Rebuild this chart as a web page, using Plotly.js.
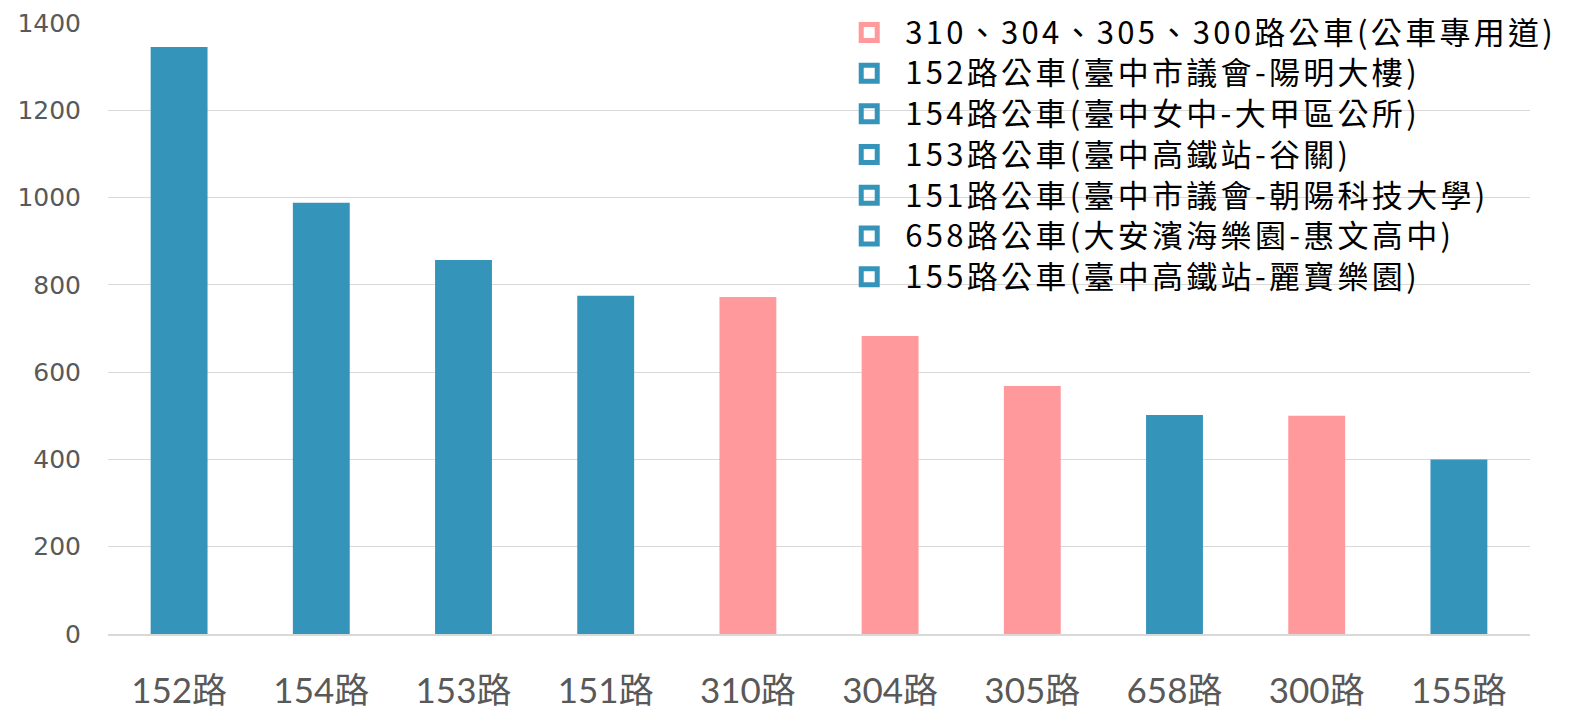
<!DOCTYPE html>
<html>
<head>
<meta charset="utf-8">
<script src="https://cdn.plot.ly/plotly-3.0.1.min.js"></script>
<style>html,body{margin:0;padding:0;background:#fff;}#chart{width:1569px;height:709px;}</style>
</head>
<body>
<div id="chart"></div>
<script>
const categories = ['152路','154路','153路','151路','310路','304路','305路','658路','300路','155路'];
const ridership = [1345, 988, 857, 775, 772, 683, 568, 502, 500, 400];
const isBusway = [false, false, false, false, true, true, true, false, true, false];
const legendNames = [
  '310、304、305、300路公車(公車專用道)',
  '152路公車(臺中市議會-陽明大樓)',
  '154路公車(臺中女中-大甲區公所)',
  '153路公車(臺中高鐵站-谷關)',
  '151路公車(臺中市議會-朝陽科技大學)',
  '658路公車(大安濱海樂園-惠文高中)',
  '155路公車(臺中高鐵站-麗寶樂園)'
];
const legendBusway = [true, false, false, false, false, false, false];
const yTicks = [0, 200, 400, 600, 800, 1000, 1200, 1400];

const BLUE = '#3494BA';
const PINK = '#FF999B';

const traces = [{
  type: 'bar',
  x: categories,
  y: ridership,
  marker: {color: isBusway.map(b => b ? PINK : BLUE)},
  width: 0.4,
  showlegend: false,
  hoverinfo: 'x+y'
}];
legendNames.forEach((name, i) => {
  const c = legendBusway[i] ? PINK : BLUE;
  traces.push({
    type: 'scatter',
    mode: 'markers',
    x: [null], y: [null],
    name: '<span style="font-size:31px;letter-spacing:3.3px">' + name + '</span>',
    marker: {symbol: 'square-open', size: 16, color: c, line: {width: 5, color: c}},
    showlegend: true
  });
});

const layout = {
  width: 1569, height: 709,
  margin: {l: 108, r: 39, t: 23, b: 75, autoexpand: false},
  paper_bgcolor: '#ffffff',
  plot_bgcolor: '#ffffff',
  showlegend: true,
  legend: {
    x: 0.510, xanchor: 'left', y: 1.026, yanchor: 'top',
    bgcolor: 'rgba(0,0,0,0)',
    itemwidth: 62,
    font: {family: '"Noto Sans CJK TC", "Noto Sans", sans-serif', size: 29, color: '#000000'},
    itemclick: false
  },
  xaxis: {
    type: 'category',
    categoryorder: 'array', categoryarray: categories,
    range: [-0.5, categories.length - 0.5],
    showgrid: false,
    showline: true, linecolor: '#d9d9d9', linewidth: 1.5,
    ticks: '',
    tickfont: {family: 'Lato, "Noto Sans CJK TC", sans-serif', size: 35, color: '#595959'},
    ticklabelstandoff: 25
  },
  yaxis: {
    range: [0, 1400],
    tickvals: yTicks,
    ticktext: yTicks.map(String),
    showgrid: true, gridcolor: '#d9d9d9', gridwidth: 1,
    zeroline: false,
    showline: false,
    ticks: '',
    tickfont: {family: '"DejaVu Sans", Lato, sans-serif', size: 25, color: '#595959'},
    ticklabelstandoff: 26
  },
  bargap: 0.6
};

Plotly.newPlot('chart', traces, layout, {displayModeBar: false, staticPlot: true});
</script>
</body>
</html>
